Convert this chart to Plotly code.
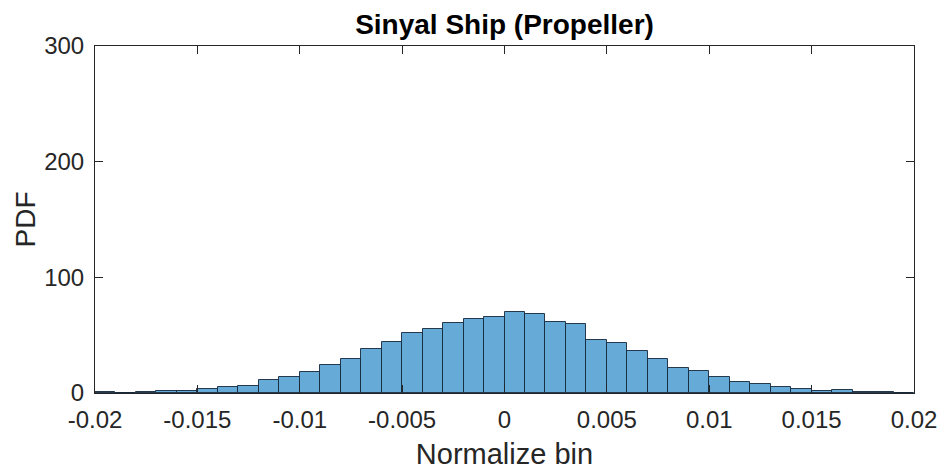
import plotly.graph_objects as go

# Histogram bins (width 0.001 from -0.02 to 0.02)
bin_edges = [round(-0.02 + 0.001 * i, 4) for i in range(41)]
pdf_values = [0.5, 0.2, 0.6, 1.4, 1.7, 3.7, 4.9, 6.0, 10.9, 13.5,
              18.4, 24.1, 29.6, 38.2, 44.5, 52.0, 55.5, 60.6, 64.4, 65.8,
              69.8, 68.1, 61.2, 59.5, 46.0, 42.8, 36.2, 29.3, 21.6, 18.7,
              13.8, 9.5, 7.8, 5.2, 3.4, 1.7, 2.3, 0.9, 0.6, 0.2]
x_ticks = [-0.02, -0.015, -0.01, -0.005, 0, 0.005, 0.01, 0.015, 0.02]
x_tick_labels = ["-0.02", "-0.015", "-0.01", "-0.005", "0", "0.005", "0.01", "0.015", "0.02"]
y_ticks = [0, 100, 200, 300]

centers = [(bin_edges[i] + bin_edges[i + 1]) / 2 for i in range(len(pdf_values))]
widths = [bin_edges[i + 1] - bin_edges[i] for i in range(len(pdf_values))]

FONT = "Liberation Sans, Arial, sans-serif"
TXT = "#262626"

fig = go.Figure()
fig.add_trace(go.Bar(
    x=centers, y=pdf_values, width=widths,
    marker=dict(color="rgb(102,170,215)", line=dict(color="rgba(20,40,60,0.9)", width=1)),
    showlegend=False,
))

axis_common = dict(
    showline=True, linecolor=TXT, linewidth=1, mirror="ticks",
    ticks="inside", ticklen=8, tickwidth=1, tickcolor=TXT,
    showgrid=False, zeroline=False, automargin=False,
    tickfont=dict(family=FONT, size=24, color=TXT),
)

fig.update_layout(
    width=943, height=470,
    margin=dict(l=95, r=29, t=46, b=77),
    paper_bgcolor="white", plot_bgcolor="white",
    bargap=0,
    title=dict(text="<b>Sinyal Ship (Propeller)</b>", x=0.5, xref="paper", xanchor="center",
               y=1 - 24 / 470, yanchor="middle",
               font=dict(family=FONT, size=28, color="black")),
    xaxis=dict(range=[-0.02, 0.02], tickvals=x_ticks, ticktext=x_tick_labels,
               ticklabelstandoff=5,
               title=dict(text="Normalize bin", font=dict(family=FONT, size=29, color=TXT)),
               **axis_common),
    yaxis=dict(range=[0, 300], tickvals=y_ticks, ticklabelstandoff=5,
               title=dict(text="PDF", font=dict(family=FONT, size=28, color=TXT), standoff=0),
               **axis_common),
)

fig.write_html("out.html")
